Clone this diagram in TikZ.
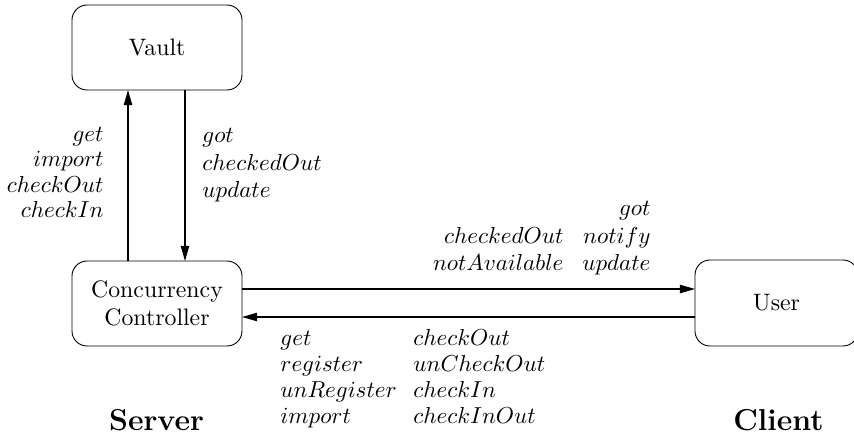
\documentclass[tikz,border=0pt]{standalone}
\usetikzlibrary{arrows.meta,calc}
\begin{document}
\begin{tikzpicture}[x=0.433pt,y=-0.433pt,
  every node/.style={font=\fontsize{10.3}{12.4}\selectfont},
  box/.style={draw,rounded corners=6.5pt,inner sep=0pt,outer sep=0pt,align=center,
    minimum width={170*0.433pt},minimum height={85*0.433pt}},
  arr/.style={-{Triangle[length=6.5pt,width=3.6pt]},line width=0.45pt},
  lbr/.style={anchor=base east,inner sep=0pt},
  lbl/.style={anchor=base west,inner sep=0pt},
  big/.style={anchor=base,inner sep=0pt,font=\fontsize{13.1}{15.5}\selectfont\bfseries}]
\useasboundingbox (0,0) rectangle (854,441);
% boxes
\node[box] (vault) at (157,47.5) {Vault};
\node[box] (cc) at (157,303.5) {Concurrency\\Controller};
\node[box,minimum width={163*0.433pt},minimum height={86*0.433pt}] (user) at (776.5,303) {User};
% arrow positions
\coordinate (xa) at (128,0);
\coordinate (xb) at (185,0);
\coordinate (ya) at (0,289);
\coordinate (yb) at (0,317);
\draw[arr] (cc.north -| xa) -- (vault.south -| xa);
\draw[arr] (vault.south -| xb) -- (cc.north -| xb);
\draw[arr] (cc.east |- ya) -- (user.west |- ya);
\draw[arr] (user.west |- yb) -- (cc.east |- yb);
% labels left of up arrow
\node[lbr] (a1) at (104,141) {$get$};
\node[lbr] (a2) at (104,166) {$import$};
\node[lbr] (a3) at (104,192) {$checkOut$};
\node[lbr] (a4) at (104,217) {$checkIn$};
% labels right of down arrow
\node[lbl] (b1) at (202,142) {$got$};
\node[lbl] (b2) at (202,170) {$checkedOut$};
\node[lbl] (b3) at (202,197) {$update$};
% labels above right arrow
\node[lbr] (c1) at (564,243) {$checkedOut$};
\node[lbr] (c2) at (564,270) {$notAvailable$};
\node[lbr] (d1) at (651,215) {$got$};
\node[lbr] (d2) at (651,243) {$notify$};
\node[lbr] (d3) at (651,270) {$update$};
% labels below left arrow
\node[lbl] (e1) at (280,345) {$get$};
\node[lbl] (e2) at (280,371) {$register$};
\node[lbl] (e3) at (280,397) {$unRegister$};
\node[lbl] (e4) at (280,423) {$import$};
\node[lbl] (f1) at (413,345) {$checkOut$};
\node[lbl] (f2) at (413,371) {$unCheckOut$};
\node[lbl] (f3) at (413,397) {$checkIn$};
\node[lbl] (f4) at (413,423) {$checkInOut$};
% titles
\node[big] (server) at (156.5,430) {Server};
\node[big] (client) at (778.5,430) {Client};
\end{tikzpicture}
\end{document}
